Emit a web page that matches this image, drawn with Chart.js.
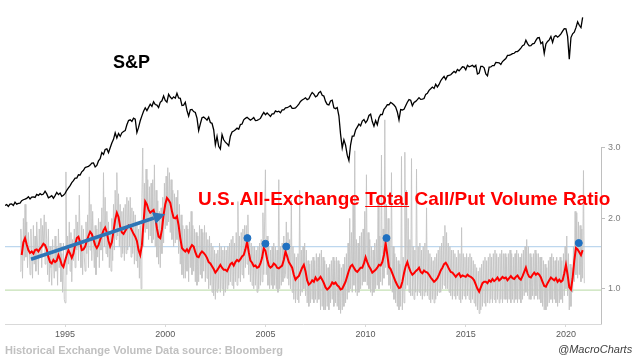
<!DOCTYPE html>
<html>
<head>
<meta charset="utf-8">
<script src="https://cdn.jsdelivr.net/npm/chart.js@4.4.1/dist/chart.umd.min.js"></script>
<style>
body { margin: 0; background: #fff; }
#wrap { position: relative; width: 640px; height: 360px; overflow: hidden; font-family: "Liberation Sans", Arial, sans-serif; }
canvas { position: absolute; left: 0; top: 0; }
.lbl { position: absolute; white-space: nowrap; line-height: 1; }
</style>
</head>
<body>
<div id="wrap">
  <canvas id="chart" width="640" height="360"></canvas>
  <div class="lbl" style="left:113px;top:53px;font-size:18px;font-weight:bold;color:#000">S&amp;P</div>
  <div class="lbl" style="left:198px;top:189px;font-size:19px;font-weight:bold;color:#ff0000">U.S. All-Exchange <u>Total</u> Call/Put Volume Ratio</div>
  <div class="lbl" style="left:5px;top:345px;font-size:11px;font-weight:bold;color:#c0c0c0">Historical Exchange Volume Data source: Bloomberg</div>
  <div class="lbl" style="left:558px;top:344px;font-size:11px;font-style:italic;color:#404040">@MacroCharts</div>
</div>
<script>
// S&P 500, monthly from Jan 1992 (log scale, no axis shown)
const spStart = 1992;
const spValues = [
  408, 412, 403, 414, 415, 408, 424, 414, 418, 419, 431, 436,
  439, 443, 452, 440, 450, 451, 448, 464, 459, 468, 462, 466,
  482, 467, 446, 451, 457, 444, 458, 475, 463, 472, 454, 459,
  470, 487, 501, 515, 533, 545, 562, 562, 584, 582, 605, 616,
  636, 640, 645, 654, 669, 671, 640, 652, 687, 705, 757, 741,
  786, 791, 757, 801, 848, 885, 954, 899, 947, 915, 955, 970,
  980, 1049, 1102, 1112, 1091, 1134, 1121, 957, 1017, 1099, 1164, 1229,
  1280, 1238, 1286, 1335, 1302, 1373, 1329, 1320, 1283, 1363, 1389, 1469,
  1394, 1366, 1499, 1452, 1421, 1455, 1431, 1518, 1437, 1429, 1315, 1320,
  1366, 1240, 1160, 1249, 1256, 1224, 1211, 1134, 980, 1060, 1139, 1148,
  1130, 1107, 1147, 1077, 1067, 990, 830, 916, 815, 790, 936, 880,
  856, 841, 820, 917, 964, 975, 990, 1008, 996, 1051, 1058, 1112,
  1131, 1145, 1126, 1107, 1121, 1141, 1102, 1104, 1115, 1130, 1174, 1212,
  1181, 1204, 1181, 1157, 1192, 1191, 1234, 1220, 1229, 1207, 1249, 1248,
  1280, 1281, 1295, 1311, 1270, 1270, 1277, 1304, 1336, 1378, 1401, 1418,
  1438, 1407, 1421, 1482, 1531, 1503, 1455, 1474, 1527, 1549, 1481, 1468,
  1379, 1331, 1323, 1386, 1400, 1280, 1267, 1283, 1165, 940, 800, 880,
  826, 735, 690, 830, 919, 919, 987, 1021, 1057, 1036, 1096, 1115,
  1074, 1104, 1169, 1187, 1089, 1031, 1102, 1049, 1141, 1183, 1181, 1258,
  1286, 1327, 1326, 1364, 1345, 1321, 1292, 1219, 1110, 1253, 1247, 1258,
  1312, 1366, 1408, 1398, 1310, 1362, 1379, 1407, 1441, 1412, 1416, 1426,
  1498, 1515, 1569, 1598, 1631, 1606, 1686, 1633, 1682, 1757, 1806, 1848,
  1783, 1859, 1872, 1884, 1924, 1960, 1931, 2003, 1972, 2018, 2068, 2059,
  1995, 2105, 2068, 2086, 2107, 2063, 2104, 1900, 1920, 2079, 2080, 2044,
  1900, 1860, 2060, 2065, 2097, 2099, 2174, 2171, 2168, 2126, 2199, 2239,
  2279, 2364, 2363, 2384, 2412, 2423, 2470, 2472, 2519, 2575, 2648, 2674,
  2824, 2714, 2641, 2648, 2705, 2718, 2816, 2902, 2914, 2711, 2760, 2420,
  2704, 2784, 2834, 2946, 2752, 2942, 2980, 2926, 2977, 3038, 3141, 3231,
  3226, 2954, 2260, 2912, 3044, 3100, 3271, 3500, 3363, 3270, 3690
];

// raw call/put ratio, 24 samples a year from Oct 1992
const rawStart = 1992.75;
const rawValues = [
  1.25, 1.85, 1.55, 1.15, 2.0, 1.4,
  2.2, 1.45, 1.95, 1.3, 1.8, 1.6, 1.2, 1.85, 1.5, 1.15, 1.9, 1.35, 1.75, 1.25, 1.95, 1.6, 1.2, 1.85, 1.45, 2.0, 1.3, 1.9, 1.6, 2.05,
  1.35, 1.95, 1.7, 1.2, 1.85, 1.1, 1.6, 1.3, 1.05, 1.7, 1.4, 1.15, 1.75, 1.25, 1.6, 1.05, 1.85, 1.3, 1.65, 1.1, 1.5, 0.95, 1.65, 0.85,
  0.8, 2.66, 1.2, 1.75, 1.35, 1.95, 1.25, 1.8, 1.1, 1.7, 1.4, 1.85, 1.3, 2.05, 1.55, 1.95, 1.4, 2.33, 1.6, 1.3, 1.9, 1.2, 1.85, 1.45,
  1.25, 1.95, 1.5, 2.05, 1.3, 2.59, 1.55, 2.2, 1.4, 2.1, 1.65, 1.3, 1.9, 1.2, 1.85, 1.45, 2.0, 1.3, 1.95, 1.55, 2.15, 1.4, 2.65, 1.6,
  2.3, 1.5, 2.1, 1.45, 1.95, 1.3, 1.8, 1.25, 2.0, 1.4, 2.2, 1.55, 2.4, 1.7, 2.65, 1.75, 2.35, 1.6, 2.2, 1.45, 2.1, 1.5, 2.15, 1.4,
  2.2, 1.5, 2.3, 1.55, 2.25, 1.6, 2.3, 1.45, 2.15, 1.5, 2.1, 1.35, 2.05, 1.4, 1.95, 1.3, 1.85, 1.15, 1.9, 1.0, 2.3, 3.0, 1.6, 2.5,
  1.8, 2.7, 1.85, 2.55, 1.7, 2.45, 1.75, 2.5, 1.65, 2.55, 1.7, 2.76, 1.6, 2.4, 1.45, 2.25, 1.35, 2.1, 1.3, 2.15, 1.5, 2.3, 1.65, 2.5,
  1.85, 2.6, 1.9, 2.72, 1.95, 2.65, 1.8, 2.55, 1.7, 2.4, 1.6, 2.35, 1.65, 2.3, 1.7, 2.4, 1.5, 2.2, 1.35, 2.05, 1.2, 1.9, 1.15, 1.85,
  1.15, 1.9, 1.25, 1.85, 1.1, 1.95, 1.3, 2.1, 1.2, 1.9, 1.25, 1.85, 1.1, 1.8, 1.05, 1.75, 1.1, 1.9, 1.2, 1.85, 1.15, 1.8, 1.25, 1.9,
  1.1, 1.8, 1.15, 1.7, 1.0, 1.75, 1.05, 1.65, 0.95, 1.6, 0.9, 1.55, 0.85, 1.5, 0.95, 1.55, 1.0, 1.65, 0.95, 1.6, 1.0, 1.55, 0.9, 1.6,
  0.95, 1.55, 1.0, 1.6, 1.05, 1.65, 1.1, 1.7, 1.05, 1.75, 1.0, 1.65, 1.1, 1.8, 1.05, 2.24, 1.15, 1.75, 1.1, 1.8, 1.2, 1.85, 1.15, 1.9,
  1.3, 1.9, 1.35, 2.05, 1.2, 1.75, 1.1, 1.65, 1.05, 1.6, 1.0, 1.6, 1.05, 1.55, 0.95, 1.6, 1.0, 1.65, 1.05, 1.7, 1.1, 2.08, 1.2, 1.95,
  2.69, 1.2, 1.75, 1.05, 1.6, 1.0, 1.55, 1.05, 1.6, 1.0, 1.65, 1.05, 1.6, 1.0, 1.55, 0.95, 2.55, 1.0, 1.6, 1.05, 1.65, 1.1, 1.75, 1.15,
  1.2, 1.95, 1.15, 1.8, 1.05, 1.7, 1.0, 2.26, 0.95, 1.6, 0.85, 1.5, 0.8, 1.45, 0.85, 1.5, 0.8, 2.4, 0.9, 1.55, 0.95, 1.6, 1.0, 1.65,
  0.9, 1.55, 0.8, 1.4, 0.75, 1.35, 0.8, 1.4, 0.85, 1.45, 0.8, 1.4, 0.85, 1.5, 0.8, 1.45, 0.85, 1.5, 0.7, 1.55, 0.75, 1.45, 0.7, 1.4,
  0.7, 1.35, 0.75, 1.3, 0.7, 1.35, 0.8, 1.4, 0.85, 1.45, 0.75, 1.4, 0.8, 1.45, 0.75, 1.4, 0.7, 1.35, 0.65, 1.3, 0.7, 1.35, 0.75, 1.45,
  0.8, 1.5, 0.85, 1.65, 0.95, 2.0, 1.0, 1.8, 0.95, 2.2, 1.05, 2.96, 0.95, 1.7, 0.9, 1.65, 0.95, 1.75, 1.0, 1.8, 1.05, 1.85, 1.1, 2.1,
  1.1, 2.62, 1.05, 1.8, 1.0, 1.7, 0.95, 1.6, 0.9, 1.55, 0.95, 1.65, 1.0, 1.7, 1.05, 2.3, 1.0, 1.75, 1.1, 2.9, 1.05, 1.85, 1.15, 3.4,
  1.3, 2.2, 1.2, 2.0, 1.05, 1.75, 1.0, 2.65, 0.95, 1.6, 0.85, 1.5, 0.8, 1.45, 0.75, 1.4, 0.7, 1.35, 0.75, 2.88, 0.7, 1.45, 0.8, 2.94,
  1.0, 2.4, 1.05, 2.0, 0.95, 1.7, 0.9, 2.85, 0.9, 1.6, 0.85, 1.55, 0.95, 2.7, 0.9, 1.6, 0.95, 1.65, 0.9, 1.55, 0.85, 1.6, 0.9, 1.65,
  0.95, 2.15, 0.9, 1.55, 0.85, 1.5, 0.8, 1.45, 0.85, 1.4, 0.8, 1.45, 0.85, 1.5, 0.9, 1.55, 0.95, 1.6, 0.95, 1.65, 1.0, 1.75, 1.05, 1.9,
  1.0, 1.8, 1.0, 1.65, 0.95, 1.6, 0.9, 1.55, 0.85, 1.55, 0.9, 1.5, 0.85, 1.45, 0.9, 1.55, 0.85, 1.5, 0.8, 1.87, 0.85, 1.5, 0.9, 1.45,
  0.85, 1.5, 0.9, 1.45, 0.85, 1.5, 0.8, 1.45, 0.85, 1.4, 0.8, 1.35, 0.75, 1.3, 0.7, 1.25, 0.65, 1.3, 0.7, 1.35, 0.75, 1.4, 0.8, 1.45,
  0.75, 1.4, 0.8, 1.45, 0.8, 1.5, 0.85, 1.45, 0.8, 1.5, 0.85, 1.55, 0.8, 1.5, 0.85, 1.45, 0.8, 1.5, 0.85, 1.55, 0.8, 1.5, 0.85, 1.5,
  0.85, 1.45, 0.8, 1.5, 0.85, 1.55, 0.8, 1.5, 0.85, 1.45, 0.8, 1.5, 0.85, 1.55, 0.8, 1.5, 0.85, 1.45, 0.8, 1.5, 0.85, 1.55, 0.9, 1.6,
  0.95, 1.7, 0.9, 1.6, 0.85, 1.5, 0.85, 1.45, 0.9, 1.5, 0.85, 1.55, 0.9, 1.5, 0.85, 1.5, 0.85, 1.45, 0.8, 1.45, 0.75, 1.4, 0.7, 1.35,
  0.7, 1.3, 0.75, 1.4, 0.8, 1.45, 0.85, 1.5, 0.8, 1.45, 0.85, 1.4, 0.8, 1.45, 0.75, 1.4, 0.8, 1.45, 0.85, 1.4, 0.8, 1.5, 0.9, 1.6,
  1.0, 1.75, 0.9, 1.5, 0.7, 1.35, 0.75, 1.3, 0.95, 1.6, 1.1, 2.1, 1.2, 2.08, 1.15, 1.95, 1.2, 1.9, 1.1, 1.85, 1.15, 2.68, 1.08
];

// smoothed ratio (red), monthly from Nov 1992
const smoothStart = 1992 + 10 / 12;
const smoothValues = [
  1.48, 1.66,
  1.72, 1.63, 1.55, 1.51, 1.53, 1.50, 1.55, 1.56, 1.53, 1.57, 1.60, 1.64,
  1.62, 1.56, 1.45, 1.38, 1.36, 1.41, 1.38, 1.40, 1.48, 1.42, 1.34, 1.31,
  1.40, 1.48, 1.55, 1.50, 1.44, 1.50, 1.62, 1.72, 1.74, 1.66, 1.55, 1.56,
  1.60, 1.68, 1.75, 1.81, 1.78, 1.70, 1.62, 1.58, 1.62, 1.70, 1.76, 1.83,
  1.87, 1.80, 1.68, 1.60, 1.66, 1.82, 1.98, 2.08, 2.02, 1.88, 1.80, 1.78,
  1.82, 1.86, 1.90, 1.88, 1.83, 1.78, 1.74, 1.68, 1.55, 1.48, 1.62, 1.95,
  2.24, 2.20, 2.12, 2.08, 2.10, 2.12, 2.02, 1.86, 1.74, 1.72, 1.84, 2.05,
  2.20, 2.29, 2.26, 2.22, 2.10, 2.01, 2.00, 2.03, 1.90, 1.72, 1.58, 1.55,
  1.53, 1.56, 1.52, 1.58, 1.62, 1.60, 1.52, 1.46, 1.45, 1.50, 1.53, 1.51,
  1.48, 1.44, 1.38, 1.36, 1.32, 1.28, 1.23, 1.26, 1.30, 1.34, 1.30, 1.27,
  1.27, 1.25, 1.30, 1.35, 1.37, 1.33, 1.38, 1.41, 1.39, 1.42, 1.46, 1.48,
  1.56, 1.67, 1.52, 1.40, 1.37, 1.32, 1.33, 1.30, 1.31, 1.36, 1.44, 1.58,
  1.54, 1.42, 1.33, 1.30, 1.32, 1.36, 1.34, 1.30, 1.29, 1.31, 1.33, 1.41,
  1.53, 1.46, 1.38, 1.34, 1.30, 1.20, 1.13, 1.16, 1.18, 1.24, 1.30, 1.34,
  1.25, 1.12, 1.06, 1.08, 1.12, 1.10, 1.16, 1.12, 1.14, 1.17, 1.13, 1.08,
  1.02, 0.99, 1.01, 1.04, 1.09, 1.07, 1.09, 1.05, 1.03, 0.99, 1.00, 1.05,
  1.10, 1.18, 1.26, 1.32, 1.34, 1.30, 1.26, 1.24, 1.27, 1.30, 1.30, 1.36,
  1.45, 1.38, 1.32, 1.28, 1.23, 1.25, 1.27, 1.30, 1.34, 1.33, 1.38, 1.48,
  1.65, 1.48, 1.31, 1.28, 1.22, 1.16, 1.10, 1.05, 1.01, 1.02, 1.10, 1.22,
  1.32, 1.38, 1.30, 1.24, 1.20, 1.22, 1.25, 1.27, 1.30, 1.24, 1.22, 1.26,
  1.24, 1.23, 1.20, 1.16, 1.13, 1.10, 1.12, 1.15, 1.20, 1.26, 1.30, 1.35,
  1.37, 1.33, 1.28, 1.24, 1.23, 1.20, 1.17, 1.20, 1.22, 1.17, 1.19, 1.18,
  1.17, 1.20, 1.18, 1.17, 1.15, 1.12, 1.06, 1.00, 0.96, 1.02, 1.08, 1.10,
  1.10, 1.08, 1.12, 1.10, 1.14, 1.11, 1.13, 1.16, 1.12, 1.14, 1.17, 1.15,
  1.16, 1.12, 1.15, 1.18, 1.15, 1.14, 1.17, 1.19, 1.15, 1.13, 1.18, 1.24,
  1.30, 1.22, 1.17, 1.16, 1.20, 1.23, 1.20, 1.22, 1.20, 1.16, 1.10, 1.04,
  1.03, 1.08, 1.12, 1.16, 1.14, 1.12, 1.15, 1.10, 1.13, 1.10, 1.12, 1.22,
  1.34, 1.20, 1.02, 0.99, 1.15, 1.40, 1.58, 1.56, 1.52, 1.48, 1.55
];

// highlighted spikes (blue dots)
const peakYears = [2004.1, 2005.0, 2006.04, 2011.04, 2020.64];
const peakValues = [1.72, 1.64, 1.60, 1.72, 1.65];

// reference levels and trend arrow
const levelValues = [1.6, 0.98];
const arrowYears = [1993.3, 2000.0];
const arrowValues = [1.42, 2.06];

const yearTicks = [1995, 2000, 2005, 2010, 2015, 2020];
const ratioTicks = [1, 2, 3];

const xMin = 1992, xMax = 2021.75;

function toPoints(start, step, values) {
  return values.map((v, i) => ({ x: start + i * step, y: v }));
}

const overlay = {
  id: 'overlay',
  beforeDatasetsDraw(chart) {
    const { ctx, chartArea, scales } = chart;
    ctx.save();
    ctx.strokeStyle = '#bfbfbf';
    ctx.lineWidth = 1;
    ctx.beginPath();
    ctx.moveTo(chartArea.right + 0.5, scales.y.getPixelForValue(3));
    ctx.lineTo(chartArea.right + 0.5, chartArea.bottom);
    ctx.stroke();
    ctx.restore();
  },
  afterDatasetsDraw(chart) {
    const { ctx, scales } = chart;
    const x0 = scales.x.getPixelForValue(arrowYears[0]);
    const y0 = scales.y.getPixelForValue(arrowValues[0]);
    const x1 = scales.x.getPixelForValue(arrowYears[1]);
    const y1 = scales.y.getPixelForValue(arrowValues[1]);
    const a = Math.atan2(y1 - y0, x1 - x0);
    const head = 12, half = 6;
    const bx = x1 - head * Math.cos(a), by = y1 - head * Math.sin(a);
    ctx.save();
    ctx.strokeStyle = '#2e75b6';
    ctx.fillStyle = '#2e75b6';
    ctx.lineWidth = 3.5;
    ctx.beginPath();
    ctx.moveTo(x0, y0);
    ctx.lineTo(bx, by);
    ctx.stroke();
    ctx.beginPath();
    ctx.moveTo(x1, y1);
    ctx.lineTo(bx + half * Math.sin(a), by - half * Math.cos(a));
    ctx.lineTo(bx - half * Math.sin(a), by + half * Math.cos(a));
    ctx.closePath();
    ctx.fill();
    ctx.restore();
  }
};

new Chart(document.getElementById('chart'), {
  type: 'line',
  data: {
    datasets: [
      {
        type: 'scatter',
        data: peakYears.map((x, i) => ({ x: x, y: peakValues[i] })),
        backgroundColor: '#1f70c1',
        borderColor: '#1f70c1',
        pointRadius: 3.5,
        yAxisID: 'y'
      },
      {
        data: toPoints(smoothStart, 1 / 12, smoothValues),
        borderColor: '#ff0000',
        borderWidth: 2,
        pointRadius: 0,
        yAxisID: 'y'
      },
      {
        data: toPoints(spStart, 1 / 12, spValues),
        borderColor: '#000000',
        borderWidth: 1.3,
        pointRadius: 0,
        yAxisID: 'sp'
      },
      {
        data: toPoints(rawStart, 1 / 24, rawValues),
        borderColor: '#c4c4c4',
        borderWidth: 0.9,
        pointRadius: 0,
        yAxisID: 'y'
      },
      {
        data: [{ x: xMin, y: levelValues[0] }, { x: xMax, y: levelValues[0] }],
        borderColor: '#bdd7ee',
        borderWidth: 1.2,
        pointRadius: 0,
        yAxisID: 'y'
      },
      {
        data: [{ x: xMin, y: levelValues[1] }, { x: xMax, y: levelValues[1] }],
        borderColor: '#c5e0b4',
        borderWidth: 1.2,
        pointRadius: 0,
        yAxisID: 'y'
      }
    ]
  },
  options: {
    responsive: false,
    animation: false,
    devicePixelRatio: 1,
    layout: { padding: { top: 10, left: 0, right: 0, bottom: 0 } },
    plugins: { legend: { display: false }, tooltip: { enabled: false } },
    scales: {
      x: {
        type: 'linear',
        min: xMin,
        max: xMax,
        bounds: 'data',
        afterFit: s => { s.height = 36; },
        afterBuildTicks: s => { s.ticks = yearTicks.map(v => ({ value: v })); },
        grid: { drawOnChartArea: false, tickLength: 3, color: '#d9d9d9' },
        border: { color: '#d9d9d9' },
        ticks: {
          color: '#595959',
          font: { size: 9, family: 'Liberation Sans' },
          maxRotation: 0,
          autoSkip: false,
          padding: 2,
          callback: v => String(v)
        }
      },
      y: {
        position: 'right',
        min: 0.5,
        max: 4.96,
        bounds: 'data',
        afterFit: s => { s.width = 39; },
        afterBuildTicks: s => { s.ticks = ratioTicks.map(v => ({ value: v })); },
        grid: { drawOnChartArea: false, tickLength: 4, color: '#bfbfbf' },
        border: { display: false },
        ticks: {
          color: '#7f7f7f',
          font: { size: 9, family: 'Liberation Sans' },
          padding: 3,
          callback: v => v.toFixed(1)
        }
      },
      sp: {
        type: 'logarithmic',
        display: false,
        min: 101.8,
        max: 4021,
        bounds: 'data'
      }
    }
  },
  plugins: [overlay]
});
</script>
</body>
</html>
